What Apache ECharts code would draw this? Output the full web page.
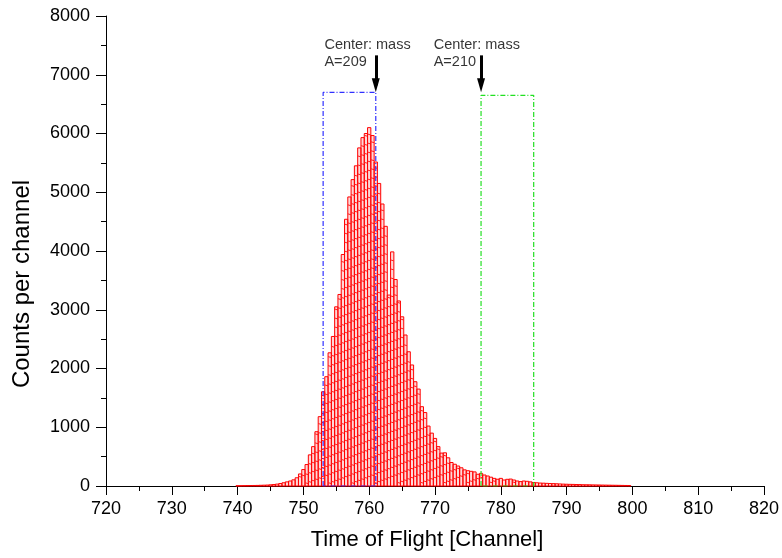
<!DOCTYPE html>
<html>
<head>
<meta charset="utf-8">
<script src="https://cdn.jsdelivr.net/npm/echarts@6/dist/echarts.min.js"></script>
<style>
html,body{margin:0;padding:0;background:#fff;}
#chart{width:782px;height:558px;}
</style>
</head>
<body>
<div id="chart"></div>
<script>
// Histogram bin centres (Time of Flight channel, bin width 0.5)
const binCenters = [
  740,740.5,741,741.5,742,742.5,743,743.5,744,744.5,
  745,745.5,746,746.5,747,747.5,748,748.5,749,749.5,
  750,750.5,751,751.5,752,752.5,753,753.5,754,754.5,
  755,755.5,756,756.5,757,757.5,758,758.5,759,759.5,
  760,760.5,761,761.5,762,762.5,763,763.5,764,764.5,
  765,765.5,766,766.5,767,767.5,768,768.5,769,769.5,
  770,770.5,771,771.5,772,772.5,773,773.5,774,774.5,
  775,775.5,776,776.5,777,777.5,778,778.5,779,779.5,
  780,780.5,781,781.5,782,782.5,783,783.5,784,784.5,
  785,785.5,786,786.5,787,787.5,788,788.5,789,789.5,
  790,790.5,791,791.5,792,792.5,793,793.5,794,794.5,
  795,795.5,796,796.5,797,797.5,798,798.5,799,799.5
];
// Counts per channel
const counts = [
  4,5,6,7,8,9,10,12,14,16,
  20,25,32,42,55,70,85,105,140,205,
  280,365,530,670,924,1180,1604,1860,2267,2545,
  3050,3260,3940,4540,4920,5215,5450,5755,5930,6000,
  6100,5965,5515,5150,4800,4420,3250,3985,3515,3150,
  2880,2570,2285,2060,1775,1650,1350,1250,1020,900,
  810,670,560,565,480,400,370,340,310,275,
  260,250,240,200,215,187,170,150,130,115,
  130,102,114,118,102,85,75,85,80,70,
  60,55,50,48,45,42,40,38,35,32,
  30,28,27,25,24,22,21,20,19,18,
  17,16,15,14,13,12,11,10,9,8
];
const binWidth = 0.5;

// Gate boxes (channel range and height)
const box209 = {from: 753, to: 761, top: 6700};
const box210 = {from: 777, to: 785, top: 6650};

// Arrows (channel, start count, tip count)
const arrowX = [761, 777];
const arrowStart = 7330;
const arrowTip = 6820;

// Annotation texts
const annotX = [753.2, 769.8];
const annotY = [7355, 7355];
const annotText = ['Center: mass\nA=209', 'Center: mass\nA=210'];

// Axis ticks
const xTicks = {min: 720, max: 820, step: 10};
const yTicks = {min: 0, max: 8000, step: 1000};

const FONT = '"Liberation Sans", Arial, Helvetica, sans-serif';

const histData = binCenters.map((c, i) => [c, counts[i]]);
function boxPath(b) {
  return [[b.from, 0], [b.from, b.top], [b.to, b.top], [b.to, 0], [b.from, 0]];
}

const chart = echarts.init(document.getElementById('chart'), null, {renderer: 'canvas'});
const option = {
  animation: false,
  backgroundColor: '#fff',
  grid: {left: 106, right: 14, top: 16, bottom: 72, containLabel: false},
  xAxis: {
    type: 'value', min: xTicks.min, max: xTicks.max, interval: xTicks.step,
    name: 'Time of Flight [Channel]', nameLocation: 'middle', nameGap: 43,
    nameTextStyle: {fontFamily: FONT, fontSize: 22, color: '#000', padding: [0, 16, 0, 0]},
    axisLine: {show: true, onZero: false, lineStyle: {color: '#000', width: 1}},
    axisTick: {show: true, inside: false, length: 9, lineStyle: {color: '#000'}},
    minorTick: {show: true, splitNumber: 2, length: 5, lineStyle: {color: '#000'}},
    splitLine: {show: false},
    axisLabel: {fontFamily: FONT, fontSize: 18, color: '#000', margin: 14, formatter: v => String(v)}
  },
  yAxis: {
    type: 'value', min: yTicks.min, max: yTicks.max, interval: yTicks.step,
    name: 'Counts per channel', nameLocation: 'middle', nameGap: 72,
    nameTextStyle: {fontFamily: FONT, fontSize: 24, color: '#000', padding: [0, 66, 0, 0]},
    axisLine: {show: true, lineStyle: {color: '#000', width: 1}},
    axisTick: {show: true, inside: false, length: 10, lineStyle: {color: '#000'}},
    minorTick: {show: true, splitNumber: 2, length: 5, lineStyle: {color: '#000'}},
    splitLine: {show: false},
    axisLabel: {fontFamily: FONT, fontSize: 18, color: '#000', margin: 16, formatter: v => String(v)}
  },
  series: [
    {
      type: 'custom',
      name: 'hist',
      data: histData,
      z: 2,
      renderItem: function (params, api) {
        const x = api.value(0), y = api.value(1);
        const p0 = api.coord([x - binWidth / 2, 0]);
        const p1 = api.coord([x + binWidth / 2, y]);
        const w = p1[0] - p0[0], h = p0[1] - p1[1];
        const children = [{
          type: 'rect',
          shape: {x: p0[0], y: p1[1], width: w, height: h},
          style: {fill: 'rgba(255,110,110,0.28)', stroke: '#ff0000', lineWidth: 1}
        }];
        // inner hatch segments (visual style of the original plot)
        const spacing = 9;
        const off = (params.dataIndex * 1.3) % spacing;
        for (let yy = p0[1] - off - 3; yy > p1[1] + 1; yy -= spacing) {
          children.push({
            type: 'line',
            shape: {x1: p0[0], y1: yy, x2: p0[0] + w, y2: yy + 1},
            style: {stroke: '#ff2020', lineWidth: 1}
          });
        }
        return {type: 'group', children: children};
      }
    },
    {
      type: 'line', name: 'A=209 gate', data: boxPath(box209), showSymbol: false, z: 5,
      lineStyle: {color: '#3030ff', width: 1.2, type: [5, 2, 1, 2]}
    },
    {
      type: 'line', name: 'A=210 gate', data: boxPath(box210), showSymbol: false, z: 5,
      lineStyle: {color: '#22e022', width: 1.2, type: [5, 2, 1, 2]}
    },
    {
      type: 'line', name: 'arrows', data: [], z: 6,
      markLine: {
        silent: true,
        symbol: ['none', 'triangle'],
        symbolSize: [8, 14],
        label: {show: false},
        lineStyle: {color: '#000', width: 3, type: 'solid'},
        data: arrowX.map(x => [{coord: [x, arrowStart]}, {coord: [x, arrowTip]}])
      }
    },
    {
      type: 'scatter', name: 'annotations', z: 7, symbolSize: 0,
      data: annotX.map((x, i) => [x, annotY[i], annotText[i]]),
      label: {
        show: true, position: 'right', distance: 0, align: 'left',
        fontFamily: FONT, fontSize: 14.5, lineHeight: 17, color: '#000',
        formatter: p => p.value[2]
      }
    }
  ]
};
chart.setOption(option);
</script>
</body>
</html>
